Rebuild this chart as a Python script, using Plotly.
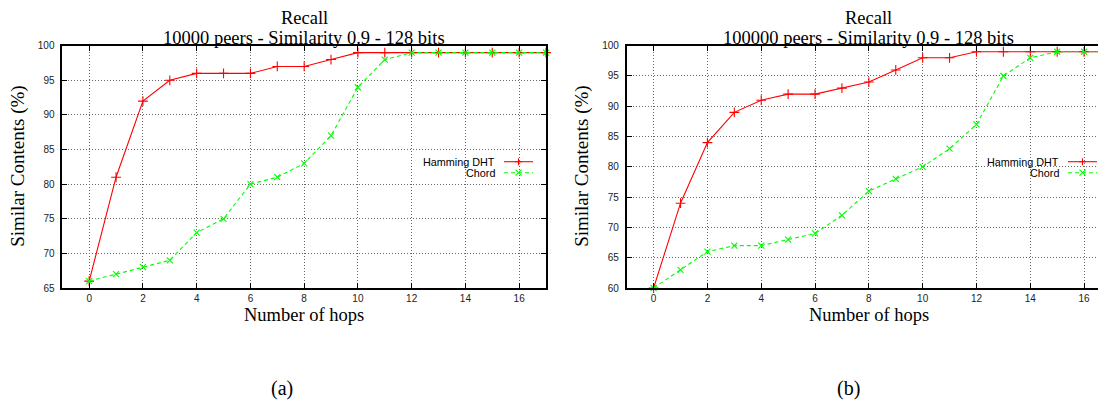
import plotly.graph_objects as go

# ---------------- data ----------------
hops = list(range(18))
hamming_10k = [66, 81, 92, 95, 96, 96, 96, 97, 97, 98, 99, 99, 99, 99, 99, 99, 99, 99]
chord_10k = [66, 67, 68, 69, 73, 75, 80, 81, 83, 87, 94, 98, 99, 99, 99, 99, 99, 99]
hamming_100k = [60, 74, 84, 89, 91, 92, 92, 93, 94, 96, 98, 98, 99, 99, 99, 99, 99, 99]
chord_100k = [60, 63, 66, 67, 67, 68, 69, 72, 76, 78, 80, 83, 87, 95, 98, 99, 99, 99]
series_names = ["Hamming DHT", "Chord"]
main_title = "Recall"
subtitles = ["10000 peers - Similarity 0.9 - 128 bits",
             "100000 peers - Similarity 0.9 - 128 bits"]
x_ticks = [0, 2, 4, 6, 8, 10, 12, 14, 16]
y_ticks_a = [65, 70, 75, 80, 85, 90, 95, 100]
y_ticks_b = [60, 65, 70, 75, 80, 85, 90, 95, 100]
x_label = "Number of hops"
y_label = "Similar Contents (%)"
panel_labels = ["(a)", "(b)"]

# ---------------- layout geometry (pixels, page coordinates) ----------------
W, H = 1106, 403
OFF = 8.0  # the page body margin shifts the figure by this much
L1, R1 = 62.3, 546.0
L2, R2 = 626.7, 1111.0
TOP, BOT = 45.7, 288.0
x_range = [-1, 17]

RED = "#ff0000"
GREEN = "#00ff00"
SERIF = "Liberation Serif, Times New Roman, serif"
SANS = "Liberation Sans, Arial, sans-serif"


def px(x):
    return (x - OFF) / W


def py(y):
    return 1 - (y - OFF) / H


fig = go.Figure()

panels = [
    dict(xa="x", ya="y", ham=hamming_10k, cho=chord_10k),
    dict(xa="x2", ya="y2", ham=hamming_100k, cho=chord_100k),
]
for p in panels:
    fig.add_trace(go.Scatter(
        x=hops, y=p["ham"], xaxis=p["xa"], yaxis=p["ya"], name=series_names[0],
        mode="lines+markers", line=dict(color=RED, width=1.1),
        marker=dict(symbol="cross-thin", size=7, line=dict(color=RED, width=1.1)),
        cliponaxis=False, showlegend=False))
    fig.add_trace(go.Scatter(
        x=hops, y=p["cho"], xaxis=p["xa"], yaxis=p["ya"], name=series_names[1],
        mode="lines+markers", line=dict(color=GREEN, width=1.1, dash="4px,3px"),
        marker=dict(symbol="x-thin", size=6, line=dict(color=GREEN, width=1.1)),
        cliponaxis=False, showlegend=False))

common_axis = dict(
    showline=True, linecolor="black", linewidth=1.6,
    ticks="inside", ticklen=5, tickcolor="black", tickwidth=1,
    showgrid=True, gridcolor="#666666", gridwidth=1, griddash="1px,2px",
    zeroline=False, automargin=False, mirror="ticks",
    tickfont=dict(family=SANS, size=10, color="#222"),
)

fig.update_layout(
    width=W, height=H,
    margin=dict(l=0, r=0, t=0, b=0, autoexpand=False),
    paper_bgcolor="white", plot_bgcolor="white",
    xaxis=dict(domain=[px(L1), px(R1)], range=x_range, tickvals=x_ticks,
               anchor="y", **common_axis),
    yaxis=dict(domain=[py(BOT), py(TOP)], range=[65, 100], tickvals=y_ticks_a,
               anchor="x", ticklabelstandoff=4, **common_axis),
    xaxis2=dict(domain=[px(L2), px(R2)], range=x_range, tickvals=x_ticks,
                anchor="y2", **common_axis),
    yaxis2=dict(domain=[py(BOT), py(TOP)], range=[60, 100], tickvals=y_ticks_b,
                anchor="x2", ticklabelstandoff=4, **common_axis),
    showlegend=False,
)

annotations = []
shapes = []
centers = [(L1 + R1) / 2, (L2 + R2) / 2]
ylab_x = [18, 582]
panel_x = [282, 848]
legend_text_end = [496.5, 1060.5]
rows = [161.7, 172.7]

for i in range(2):
    cx = centers[i]
    annotations.append(dict(x=px(cx), y=py(18.5), xref="paper", yref="paper",
                            text=main_title, showarrow=False, xanchor="center", yanchor="middle",
                            font=dict(family=SERIF, size=18.5, color="black")))
    annotations.append(dict(x=px(cx), y=py(38.5), xref="paper", yref="paper",
                            text=subtitles[i], showarrow=False, xanchor="center", yanchor="middle",
                            font=dict(family=SERIF, size=18.5, color="black")))
    annotations.append(dict(x=px(cx), y=py(315), xref="paper", yref="paper",
                            text=x_label, showarrow=False, xanchor="center", yanchor="middle",
                            font=dict(family=SERIF, size=18.5, color="black")))
    annotations.append(dict(x=px(ylab_x[i]), y=py((TOP + BOT) / 2), xref="paper", yref="paper",
                            text=y_label, showarrow=False, textangle=-90,
                            xanchor="center", yanchor="middle",
                            font=dict(family=SERIF, size=19, color="black")))
    annotations.append(dict(x=px(panel_x[i]), y=py(388), xref="paper", yref="paper",
                            text=panel_labels[i], showarrow=False, xanchor="center", yanchor="middle",
                            font=dict(family=SERIF, size=20, color="black")))
    # gnuplot-style key: text then sample line
    te = legend_text_end[i]
    for j, (name, col) in enumerate(zip(series_names, [RED, GREEN])):
        yy = rows[j]
        annotations.append(dict(x=px(te), y=py(yy), xref="paper", yref="paper",
                                text=name, showarrow=False, xanchor="right", yanchor="middle",
                                font=dict(family=SANS, size=10.8, color="black")))
        x0, x1 = te + 7.5, te + 36.5
        shapes.append(dict(type="line", xref="paper", yref="paper",
                           x0=px(x0), x1=px(x1), y0=py(yy), y1=py(yy),
                           line=dict(color=col, width=1.1, dash="solid" if j == 0 else "4px,3px")))
        mx = (x0 + x1) / 2
        s = 3.5 if j == 0 else 3.0
        if j == 0:
            path = (f"M{px(mx - s)},{py(yy)} L{px(mx + s)},{py(yy)} "
                    f"M{px(mx)},{py(yy - s)} L{px(mx)},{py(yy + s)}")
        else:
            path = (f"M{px(mx - s)},{py(yy - s)} L{px(mx + s)},{py(yy + s)} "
                    f"M{px(mx - s)},{py(yy + s)} L{px(mx + s)},{py(yy - s)}")
        shapes.append(dict(type="path", xref="paper", yref="paper", path=path,
                           line=dict(color=col, width=1.1)))

fig.update_layout(annotations=annotations, shapes=shapes)
fig.write_html("out.html")
